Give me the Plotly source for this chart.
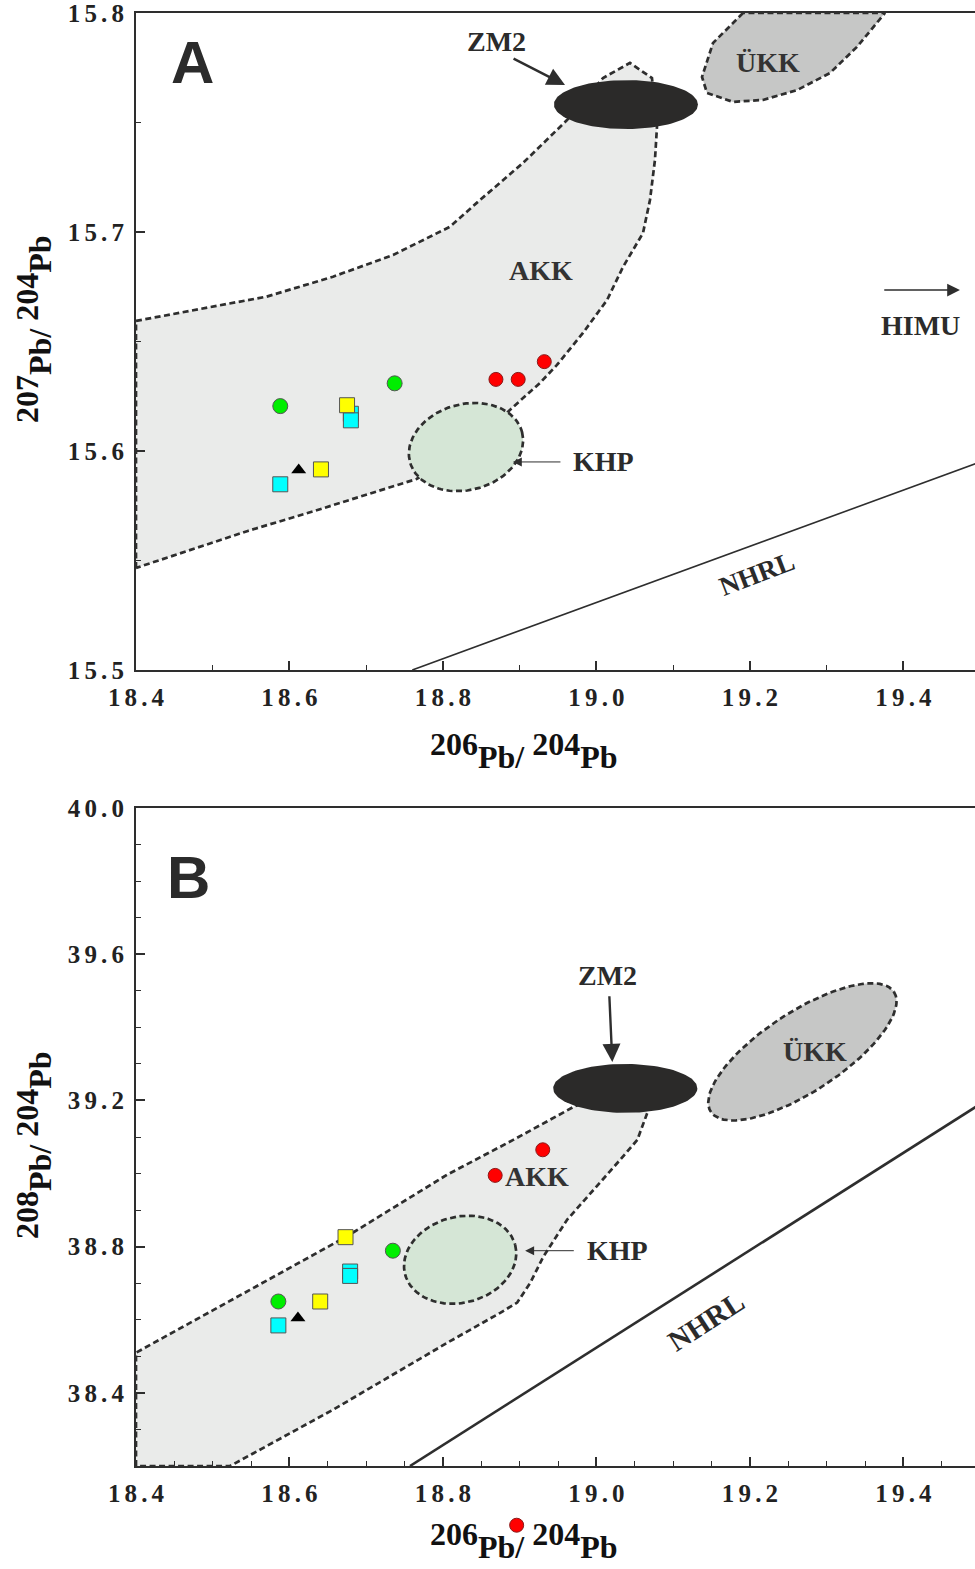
import numpy as np
import plotly.graph_objects as go

# ---------------- Panel A : 206Pb/204Pb vs 207Pb/204Pb ----------------
a_green_x = [18.588, 18.737]
a_green_y = [15.6205, 15.6309]
a_red_x = [18.869, 18.898, 18.932]
a_red_y = [15.6327, 15.6327, 15.6408]
a_yellow_x = [18.675, 18.641]
a_yellow_y = [15.6209, 15.5916]
a_cyan_x = [18.680, 18.680, 18.588]
a_cyan_y = [15.617, 15.614, 15.5848]
a_tri_x = [18.612]
a_tri_y = [15.5913]

# field outlines (panel A)
a_akk_x = [18.4, 18.4, 18.5703, 18.6567, 18.7349, 18.8091, 18.8482, 18.9042, 18.9616, 19.0085,
           19.0436, 19.0723, 19.0788, 19.0762, 19.0697, 19.0606, 19.0345, 19.0137, 18.9824, 18.9485,
           18.9264, 18.8899, 18.830, 18.7655, 18.6323, 18.5456, 18.4]
a_akk_y = [15.5466, 15.6594, 15.6705, 15.6796, 15.6895, 15.7024, 15.7146, 15.7315, 15.7511, 15.7703,
           15.7772, 15.7703, 15.7479, 15.7329, 15.7146, 15.6995, 15.6840, 15.6689, 15.6539, 15.6393,
           15.6311, 15.6196, 15.6000, 15.5872, 15.5726, 15.5635, 15.5466]
a_ukk_x = [19.1909, 19.1518, 19.1375, 19.1440, 19.1779, 19.2170, 19.2613, 19.3042, 19.3394, 19.3759, 19.1909]
a_ukk_y = [15.8000, 15.7863, 15.7708, 15.7635, 15.7594, 15.7603, 15.7648, 15.7726, 15.7845, 15.8000, 15.8000]
# ellipses: centre, conjugate half-axis vectors u, v
a_khp = dict(c=(18.830, 15.6018), u=(0.0730, 0.00685), v=(0.01446, -0.01895))
a_zm2 = dict(c=(19.0384, 15.7582), u=(0.0938, 0.0), v=(0.0, 0.01119))
a_nhrl_x = [18.76, 19.5]
a_nhrl_y = [15.5, 15.595]

# ---------------- Panel B : 206Pb/204Pb vs 208Pb/204Pb ----------------
b_green_x = [18.5855, 18.7347]
b_green_y = [38.650, 38.789]
b_red_x = [18.868, 18.930, 18.896]
b_red_y = [38.995, 39.065, 38.038]   # last one plots below the axis in the original
b_yellow_x = [18.673, 18.640]
b_yellow_y = [38.826, 38.650]
b_cyan_x = [18.679, 18.679, 18.5855]
b_cyan_y = [38.732, 38.720, 38.5846]
b_tri_x = [18.611]
b_tri_y = [38.605]

b_akk_x = [18.4, 18.4, 18.6738, 18.8055, 18.8915, 18.9724, 19.018, 19.0636, 19.0662, 19.0532,
           19.031, 18.9958, 18.9619, 18.9306, 18.9137, 18.8967, 18.8746, 18.8055, 18.6568, 18.5226, 18.4]
b_akk_y = [38.2, 38.510, 38.827, 38.997, 39.092, 39.185, 39.215, 39.202, 39.166, 39.092,
           39.038, 38.956, 38.874, 38.772, 38.701, 38.647, 38.619, 38.537, 38.354, 38.2, 38.2]
b_ukk = dict(c=(19.2683, 39.3329), u=(0.1193, 0.1640), v=(0.02855, -0.0913))
b_khp = dict(c=(18.8224, 38.7642), u=(0.0717, 0.0405), v=(0.01447, -0.1135))
b_zm2 = dict(c=(19.0375, 39.233), u=(0.0939, 0.0), v=(0.0, 0.067))
b_nhrl_x = [18.757, 19.5]
b_nhrl_y = [38.2, 39.19]

x_ticks = [18.4, 18.6, 18.8, 19.0, 19.2, 19.4]
a_y_ticks = [15.5, 15.6, 15.7, 15.8]
b_y_ticks = [38.4, 38.8, 39.2, 39.6, 40.0]

# ---------------- styles / layout geometry ----------------
DARK = "#2e2e2e"
SERIF = "Liberation Serif"
DASH = "6px,3.5px"
W, H = 975, 1569
A_TOP, A_BOT = 13, 670
B_TOP, B_BOT = 808, 1466
B_RANGE = [38.2, 40.0]


def ellipse(p, n=120):
    t = np.linspace(0, 2 * np.pi, n)
    cx, cy = p["c"]
    ux, uy = p["u"]
    vx, vy = p["v"]
    return cx + ux * np.cos(t) + vx * np.sin(t), cy + uy * np.cos(t) + vy * np.sin(t)


def spaced(v):
    return "\u2006".join(list(f"{v:.1f}"))


fig = go.Figure()


def add_field(x, y, fill, xa, ya, dashed=True, lw=2.7):
    fig.add_trace(go.Scatter(
        x=list(x), y=list(y), xaxis=xa, yaxis=ya, mode="lines", fill="toself",
        fillcolor=fill, line=dict(color=DARK if dashed else fill, width=lw if dashed else 0,
                                  dash=DASH if dashed else "solid"),
        hoverinfo="skip", showlegend=False))


def add_points(xa, ya, green, red, yellow, cyan, tri, ya_red=None):
    mk = dict(line=dict(color="#555555", width=1))
    fig.add_trace(go.Scatter(x=cyan[0], y=cyan[1], xaxis=xa, yaxis=ya, mode="markers",
                             marker=dict(symbol="square", size=15, color="#00ffff", **mk), showlegend=False))
    fig.add_trace(go.Scatter(x=yellow[0], y=yellow[1], xaxis=xa, yaxis=ya, mode="markers",
                             marker=dict(symbol="square", size=15, color="#ffff00", **mk), showlegend=False))
    fig.add_trace(go.Scatter(x=green[0], y=green[1], xaxis=xa, yaxis=ya, mode="markers",
                             marker=dict(symbol="circle", size=15, color="#00ee00", **mk), showlegend=False))
    fig.add_trace(go.Scatter(x=tri[0], y=tri[1], xaxis=xa, yaxis=ya, mode="markers",
                             marker=dict(symbol="triangle-up", size=13, color="#000000"), showlegend=False))
    fig.add_trace(go.Scatter(x=red[0], y=red[1], xaxis=xa, yaxis=ya_red or ya, mode="markers",
                             marker=dict(symbol="circle", size=14, color="#ff0000",
                                         line=dict(color="#8a1a1a", width=1)), showlegend=False))


# Panel A fields
add_field(a_akk_x, a_akk_y, "#eaebea", "x", "y")
add_field(a_ukk_x, a_ukk_y, "#c6c7c6", "x", "y")
add_field(*ellipse(a_khp), "#d5e6d6", "x", "y")
add_field(*ellipse(a_zm2), "#2b2a29", "x", "y", dashed=False)
fig.add_trace(go.Scatter(x=a_nhrl_x, y=a_nhrl_y, xaxis="x", yaxis="y", mode="lines",
                         line=dict(color=DARK, width=1.6), showlegend=False))
add_points("x", "y", (a_green_x, a_green_y), (a_red_x, a_red_y), (a_yellow_x, a_yellow_y),
           (a_cyan_x, a_cyan_y), (a_tri_x, a_tri_y))

# Panel B fields
add_field(b_akk_x, b_akk_y, "#eaebea", "x2", "y2")
add_field(*ellipse(b_ukk), "#c6c7c6", "x2", "y2")
add_field(*ellipse(b_khp), "#d5e6d6", "x2", "y2")
add_field(*ellipse(b_zm2), "#2b2a29", "x2", "y2", dashed=False)
fig.add_trace(go.Scatter(x=b_nhrl_x, y=b_nhrl_y, xaxis="x2", yaxis="y2", mode="lines",
                         line=dict(color=DARK, width=2.6), showlegend=False))
add_points("x2", "y2", (b_green_x, b_green_y), (b_red_x, b_red_y), (b_yellow_x, b_yellow_y),
           (b_cyan_x, b_cyan_y), (b_tri_x, b_tri_y), ya_red="y3")

tickfont = dict(family=SERIF, size=25, color="#222222", weight="bold")
common_x = dict(range=[18.4, 19.4932], tickmode="array", tickvals=x_ticks,
                ticktext=[spaced(v) for v in x_ticks], showline=True, linecolor=DARK, linewidth=2,
                mirror=True, ticks="inside", ticklen=9, tickwidth=1.6, tickcolor=DARK,
                showgrid=False, zeroline=False, tickfont=tickfont, ticklabelstandoff=4,
                automargin=False, ticklabeloverflow="allow")
common_y = dict(showline=True, linecolor=DARK, linewidth=2, ticks="inside", ticklen=9,
                tickwidth=1.6, tickcolor=DARK, showgrid=False, zeroline=False,
                tickfont=tickfont, ticklabelstandoff=5, automargin=False,
                ticklabeloverflow="allow")

L = 136 / W
# extended (invisible) y-axis sharing panel B's scale, reaching the bottom of the figure
b_per_px = (B_RANGE[1] - B_RANGE[0]) / (B_BOT - B_TOP)
y3_low = B_RANGE[0] - (H - B_BOT) * b_per_px

fig.update_layout(
    width=W, height=H, margin=dict(l=0, r=0, t=0, b=0, autoexpand=False),
    paper_bgcolor="white", plot_bgcolor="rgba(0,0,0,0)", showlegend=False,
    xaxis=dict(domain=[L, 1.0], anchor="y",
               minor=dict(tickmode="linear", tick0=18.4, dtick=0.1, ticks="inside",
                          ticklen=5, tickwidth=1.4, tickcolor=DARK), **common_x),
    yaxis=dict(domain=[1 - A_BOT / H, 1 - A_TOP / H], anchor="x", range=[15.5, 15.8],
               tickmode="array", tickvals=a_y_ticks, ticktext=[spaced(v) for v in a_y_ticks],
               minor=dict(tickmode="linear", tick0=15.5, dtick=0.05, ticks="inside",
                          ticklen=5, tickwidth=1.4, tickcolor=DARK), **common_y),
    xaxis2=dict(domain=[L, 1.0], anchor="y2",
                minor=dict(tickmode="linear", tick0=18.4, dtick=0.05, ticks="inside",
                           ticklen=5, tickwidth=1.4, tickcolor=DARK), **common_x),
    yaxis2=dict(domain=[1 - B_BOT / H, 1 - B_TOP / H], anchor="x2", range=B_RANGE,
                tickmode="array", tickvals=b_y_ticks, ticktext=[spaced(v) for v in b_y_ticks],
                minor=dict(tickmode="linear", tick0=38.2, dtick=0.1, ticks="inside",
                           ticklen=5, tickwidth=1.4, tickcolor=DARK), **common_y),
    yaxis3=dict(domain=[0, 1 - B_TOP / H], anchor="x2", range=[y3_low, B_RANGE[1]],
                visible=False, automargin=False, showgrid=False, zeroline=False),
)

ann = []


def text(x, y, s, xr, yr, size=28, angle=0, color="#2b2b2b"):
    ann.append(dict(x=x, y=y, xref=xr, yref=yr, text=s, showarrow=False, textangle=angle,
                    xanchor="center", yanchor="middle",
                    font=dict(family=SERIF, size=size, color=color, weight="bold")))


def arrow(x, y, ax, ay, xr, yr, width=2.4, head=2, size=1.1):
    ann.append(dict(x=x, y=y, ax=ax, ay=ay, xref=xr, yref=yr, axref=xr, ayref=yr, text="",
                    showarrow=True, arrowhead=head, arrowsize=size, arrowwidth=width,
                    arrowcolor=DARK))


# Panel A labels
ann.append(dict(x=18.473, y=15.7772, xref="x", yref="y", text="A", showarrow=False,
                xanchor="center", yanchor="middle",
                font=dict(family="Liberation Sans", size=60, color="#2b2b2b", weight="bold")))
text(18.870, 15.7868, "ZM2", "x", "y")
arrow(18.959, 15.7671, 18.890, 15.7795, "x", "y", size=1.5)
text(19.2235, 15.7776, "ÜKK", "x", "y", color="#333333")
text(18.9277, 15.6822, "AKK", "x", "y", color="#333333")
text(19.4228, 15.6571, "HIMU", "x", "y")
arrow(19.4736, 15.6735, 19.373, 15.6735, "x", "y", width=1.6, size=1.6)
text(19.0085, 15.595, "KHP", "x", "y")
arrow(18.891, 15.595, 18.955, 15.595, "x", "y", width=1.0, head=2, size=1.8)
text(19.209, 15.5438, "NHRL", "x", "y", size=27, angle=-21)

# Panel B labels
ann.append(dict(x=18.469, y=39.8086, xref="x2", yref="y2", text="B", showarrow=False,
                xanchor="center", yanchor="middle",
                font=dict(family="Liberation Sans", size=60, color="#2b2b2b", weight="bold")))
text(19.0141, 39.5407, "ZM2", "x2", "y2")
arrow(19.0206, 39.3055, 19.0167, 39.489, "x2", "y2", size=1.5)
text(19.2853, 39.333, "ÜKK", "x2", "y2", color="#333333")
text(18.9228, 38.991, "AKK", "x2", "y2", color="#333333")
text(19.0271, 38.789, "KHP", "x2", "y2")
arrow(18.907, 38.789, 18.9724, 38.789, "x2", "y2", width=1.0, head=2, size=1.8)
text(19.143, 38.597, "NHRL", "x2", "y2", size=29, angle=-33)

# axis titles
big = "<span style='font-size:32px'>{}</span>"
xt = "<sup>" + big.format("206") + "</sup>Pb/ <sup>" + big.format("204") + "</sup>Pb"
y1t = "<sup>" + big.format("207") + "</sup>Pb/ <sup>" + big.format("204") + "</sup>Pb"
y2t = "<sup>" + big.format("208") + "</sup>Pb/ <sup>" + big.format("204") + "</sup>Pb"
tf = dict(family=SERIF, size=32, color="#111111", weight="bold")
for yy, s, ang, xx in [(750, xt, 0, 524), (1540, xt, 0, 524), (329, y1t, -90, 33), (1145, y2t, -90, 33)]:
    ann.append(dict(x=xx / W, y=1 - yy / H, xref="paper", yref="paper", text=s,
                    xanchor="center", yanchor="middle", showarrow=False, font=tf, textangle=ang))

fig.update_layout(annotations=ann)
fig.write_html("out.html", config={"displayModeBar": False},
               post_script="document.body.style.margin='0px';")
